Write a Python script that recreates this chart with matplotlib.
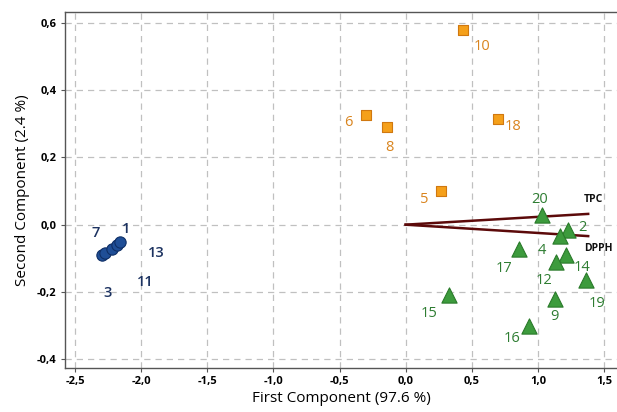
import matplotlib
matplotlib.use('Agg')
import matplotlib.pyplot as plt
from matplotlib.ticker import FuncFormatter

plt.rcParams['font.family'] = ['Open Sans', 'DejaVu Sans']

# Scores (first component, second component)
blue_ids = ['3', '7', '11', '13', '1']
blue_x = [-2.295, -2.273, -2.22, -2.18, -2.16]
blue_y = [-0.090, -0.084, -0.073, -0.061, -0.052]

orange_ids = ['10', '6', '8', '18', '5']
orange_x = [0.43, -0.30, -0.14, 0.70, 0.265]
orange_y = [0.58, 0.325, 0.29, 0.315, 0.10]

green_ids = ['20', '2', '4', '17', '14', '12', '19', '9', '15', '16']
green_x = [1.03, 1.23, 1.17, 0.86, 1.21, 1.14, 1.36, 1.13, 0.33, 0.93]
green_y = [0.029, -0.016, -0.034, -0.073, -0.090, -0.110, -0.165, -0.220, -0.210, -0.300]

# Loadings
load_names = ['TPC', 'DPPH']
load_x = [1.38, 1.38]
load_y = [0.032, -0.034]

# label offsets in pixels (dx, dy)
blue_off = {'3': (5, -38), '7': (-9, 20), '11': (33, -33), '13': (39, -8), '1': (6, 13)}
orange_off = {'10': (20, -17), '6': (-18, -7), '8': (2, -20), '18': (15, -8), '5': (-16, -8)}
green_off = {'20': (-2, 15), '2': (14, 3), '4': (-19, -14), '17': (-15, -19), '14': (16, -13),
             '12': (-12, -19), '19': (12, -23), '9': (-1, -18), '15': (-20, -18), '16': (-17, -13)}

fig = plt.figure(figsize=(6.17, 4.12), dpi=100)
ax = fig.add_axes([0.1053, 0.1068, 0.8947, 0.864])

ax.set_xlim(-2.576, 1.598)
ax.set_ylim(-0.426, 0.632)
ax.set_xticks([-2.5, -2.0, -1.5, -1.0, -0.5, 0.0, 0.5, 1.0, 1.5])
ax.set_yticks([-0.4, -0.2, 0.0, 0.2, 0.4, 0.6])
fmt = FuncFormatter(lambda v, p: f'{v:.1f}'.replace('.', ',').replace('-0,0', '0,0'))
ax.xaxis.set_major_formatter(fmt)
ax.yaxis.set_major_formatter(fmt)
ax.grid(True, color='#c0c0c0', linestyle=(0, (5, 4)), linewidth=0.9)
ax.set_axisbelow(True)

ax.spines['right'].set_visible(False)
for s in ['left', 'bottom', 'top']:
    ax.spines[s].set_color('#555555')
    ax.spines[s].set_linewidth(1.0)
ax.tick_params(length=3, color='#555555', labelsize=8, pad=3)
for lab in ax.get_xticklabels() + ax.get_yticklabels():
    lab.set_fontweight('bold')

# loading lines
for name, lx, ly in zip(load_names, load_x, load_y):
    ax.plot([0, lx], [0, ly], color='#5c0a0a', linewidth=1.8, zorder=2)
    ax.annotate(name, (lx, ly), xytext=(-4, 14 if ly > 0 else -12), textcoords='offset pixels',
                ha='left', va='center', fontsize=7.5, fontweight='bold', color='#111111')

ax.scatter(blue_x, blue_y, s=66, marker='o', color='#1f4e96', edgecolor='#0f2f66', linewidth=0.8, zorder=3)
ax.scatter(orange_x, orange_y, s=62, marker='s', color='#f5a01a', edgecolor='#d07810', linewidth=0.8, zorder=3)
ax.scatter(green_x, green_y, s=120, marker='^', color='#3d9b3d', edgecolor='#2a7a2a', linewidth=0.8, zorder=3)

for ids, xs, ys, off, col, wt in [(blue_ids, blue_x, blue_y, blue_off, '#1c3260', 'semibold'),
                                  (orange_ids, orange_x, orange_y, orange_off, '#d9841e', 'normal'),
                                  (green_ids, green_x, green_y, green_off, '#2e7d32', 'normal')]:
    for i, x, y in zip(ids, xs, ys):
        dx, dy = off[i]
        ax.annotate(i, (x, y), xytext=(dx, dy), textcoords='offset pixels',
                    ha='center', va='center', fontsize=10.5, color=col, fontweight=wt)

ax.set_xlabel('First Component (97.6 %)', fontsize=11, labelpad=3)
ax.set_ylabel('Second Component (2.4 %)', fontsize=11, labelpad=5)

fig.savefig('out.png', dpi=100)
